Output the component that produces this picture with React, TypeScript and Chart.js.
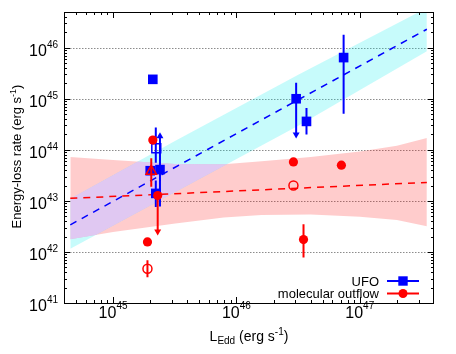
import React, { useEffect, useRef } from "react";
import { Chart, registerables } from "chart.js";
Chart.register(...registerables);

// ---- axis ranges & ticks ----
const xRange = [4e44, 4e47];
const yRange = [1e41, 5e46];
const xTickValues = [1e45, 1e46, 1e47];
const xTickExps = ["45", "46", "47"];
const yTickValues = [1e41, 1e42, 1e43, 1e44, 1e45, 1e46];
const yTickExps = ["41", "42", "43", "44", "45", "46"];
const legendLabels = ["UFO", "molecular outflow"];

// ---- UFO ----
const ufoX = [2.1e45, 3.05e46, 3.7e46, 7.4e46, 2.0e45, 2.4e45, 2.22e45];
const ufoY = [2.4e45, 1.0e45, 3.6e44, 6.4e45, 3.9e43, 4.1e43, 1.4e43];
const ufoOpenX = [2.24e45];
const ufoOpenY = [1.07e44];
const ufoErrX = [3.05e46, 3.7e46, 7.4e46, 2.22e45, 2.22e45, 2.4e45];
const ufoErrLo = [2.0e44, 2.0e44, 5.1e44, 5.6e43, 7.6e42, 7.8e42];
const ufoErrHi = [2.05e45, 6.6e44, 1.8e46, 2.75e44, 2.5e43, 1.85e44];
const ufoArrowX = [3.05e46, 2.4e45];
const ufoArrowY = [2.0e44, 1.85e44];
const ufoArrowDown = [true, false];

// ---- molecular outflow ----
const molX = [2.1e45, 2.3e45, 1.9e45, 2.9e46, 3.5e46, 7.1e46];
const molY = [1.55e44, 1.27e43, 1.57e42, 5.8e43, 1.75e42, 5.0e43];
const molOpenX = [1.9e45, 2.9e46];
const molOpenY = [4.7e41, 2.0e43];
const molTriX = [2.04e45];
const molTriY = [3.8e43];
const molErrX = [2.3e45, 1.9e45, 3.5e46, 2.04e45];
const molErrLo = [2.5e42, 3.2e41, 7.8e41, 1.9e43];
const molErrHi = [1.27e43, 6.9e41, 3.5e42, 6.8e43];
const molArrowX = [2.3e45];
const molArrowY = [2.5e42];
const molArrowDown = [true];

// ---- fits ----
const ufoFitX = [4.5e44, 3.5e47];
const ufoFitY = [3.4e42, 2.3e46];
const molFitX = [4.5e44, 3.5e47];
const molFitY = [1.12e43, 2.3e43];

// ---- bands ----
const ufoBandX = [4.5e44, 3.2e45, 3.2e46, 3.5e47];
const ufoBandHi = [1.1e43, 1.5e44, 3.0e45, 6.0e46];
const ufoBandLo = [1.15e42, 1.5e43, 3.0e44, 8.5e45];
const molBandX = [4.5e44, 1e45, 3.2e45, 7.9e45, 1.6e46, 4e46, 1e47, 2e47, 3.5e47];
const molBandHi = [7.2e43, 6.3e43, 5.3e43, 5.2e43, 6.0e43, 7.2e43, 9.3e43, 1.2e44, 1.7e44];
const molBandLo = [1.78e42, 2.45e42, 3.6e42, 4.7e42, 5.3e42, 5.4e42, 4.9e42, 4.2e42, 3.2e42];

const FONT = '"Liberation Sans", Arial, sans-serif';
const BLUE = "#0000ff";
const RED = "#ff0000";
const CYAN_FILL = "rgba(0,235,235,0.22)";
const PINK_FILL = "rgba(255,0,0,0.2)";
const OVERLAP_FILL = "rgb(224,200,242)";

const pts = (xs: number[], ys: number[]) => xs.map((x, i) => ({ x, y: ys[i] }));
const bars = (xs: number[], lo: number[], hi: number[]) => {
  const d: any[] = [];
  xs.forEach((x, i) => {
    d.push({ x, y: lo[i] }, { x, y: hi[i] }, { x, y: null });
  });
  return d;
};
function minorTicks(min: number, max: number) {
  const out: number[] = [];
  for (let e = Math.floor(Math.log10(min)); e <= Math.ceil(Math.log10(max)); e++) {
    for (let m = 2; m <= 9; m++) {
      const v = m * Math.pow(10, e);
      if (v > min * 1.001 && v < max * 0.999) out.push(v);
    }
  }
  return out;
}
type Seg = { t: string; size: number; dy?: number };
function drawRich(ctx: CanvasRenderingContext2D, segs: Seg[], x: number, y: number, align: string) {
  let total = 0;
  const widths: number[] = [];
  for (const s of segs) {
    ctx.font = `${s.size}px ${FONT}`;
    const w = ctx.measureText(s.t).width;
    widths.push(w);
    total += w;
  }
  let cx = align === "center" ? x - total / 2 : align === "right" ? x - total : x;
  segs.forEach((s, i) => {
    ctx.font = `${s.size}px ${FONT}`;
    ctx.fillText(s.t, cx, y + (s.dy || 0));
    cx += widths[i];
  });
}

function bandPath(ctx: CanvasRenderingContext2D, hi: any[], lo: any[]) {
  ctx.beginPath();
  hi.forEach((p: any, i: number) => (i === 0 ? ctx.moveTo(p.x, p.y) : ctx.lineTo(p.x, p.y)));
  for (let i = lo.length - 1; i >= 0; i--) ctx.lineTo(lo[i].x, lo[i].y);
  ctx.closePath();
}

const gridPlugin = {
  id: "gridDeco",
  beforeDatasetsDraw(chart: any) {
    const { ctx, chartArea: a, scales } = chart;
    ctx.save();
    ctx.strokeStyle = "#8c8c8c";
    ctx.lineWidth = 1;
    ctx.setLineDash([1.5, 1.5]);
    yTickValues.forEach((v) => {
      const py = Math.round(scales.y.getPixelForValue(v)) + 0.5;
      if (py > a.top + 1 && py < a.bottom - 1) {
        ctx.beginPath();
        ctx.moveTo(a.left, py);
        ctx.lineTo(a.right, py);
        ctx.stroke();
      }
    });
    ctx.restore();
  },
  // paint the overlap of the two bands just before the fit lines are drawn
  beforeDatasetDraw(chart: any, args: any) {
    const ds = chart.data.datasets[args.index];
    if (!ds || ds.id !== "ufoFit") return;
    const find = (id: string) => chart.data.datasets.findIndex((d: any) => d.id === id);
    const cu = chart.getDatasetMeta(find("cyanHi")).data;
    const cl = chart.getDatasetMeta(find("cyanLo")).data;
    const pu = chart.getDatasetMeta(find("pinkHi")).data;
    const pl = chart.getDatasetMeta(find("pinkLo")).data;
    const { ctx, chartArea: a } = chart;
    ctx.save();
    ctx.beginPath();
    ctx.rect(a.left, a.top, a.right - a.left, a.bottom - a.top);
    ctx.clip();
    bandPath(ctx, cu, cl);
    ctx.clip();
    bandPath(ctx, pu, pl);
    ctx.fillStyle = OVERLAP_FILL;
    ctx.fill();
    ctx.restore();
  },
};

const decoPlugin = {
  id: "axisDeco",
  afterDraw(chart: any) {
    const { ctx, chartArea: a, scales } = chart;
    const xs = scales.x, ys = scales.y;
    ctx.save();
    ctx.setLineDash([]);
    ctx.strokeStyle = "#000";
    ctx.lineWidth = 1;
    const tick = (v: number, len: number, isX: boolean) => {
      ctx.beginPath();
      if (isX) {
        const px = Math.round(xs.getPixelForValue(v)) + 0.5;
        ctx.moveTo(px, a.bottom);
        ctx.lineTo(px, a.bottom - len);
        ctx.moveTo(px, a.top);
        ctx.lineTo(px, a.top + len);
      } else {
        const py = Math.round(ys.getPixelForValue(v)) + 0.5;
        ctx.moveTo(a.left, py);
        ctx.lineTo(a.left + len, py);
        ctx.moveTo(a.right, py);
        ctx.lineTo(a.right - len, py);
      }
      ctx.stroke();
    };
    xTickValues.forEach((v) => tick(v, 6, true));
    minorTicks(xRange[0], xRange[1]).forEach((v) => tick(v, 3, true));
    yTickValues.forEach((v) => tick(v, 6, false));
    minorTicks(yRange[0], yRange[1]).forEach((v) => tick(v, 3, false));
    ctx.strokeRect(a.left + 0.5, a.top + 0.5, a.right - a.left - 1, a.bottom - a.top);

    ctx.fillStyle = "#000";
    ctx.textAlign = "left";
    ctx.textBaseline = "alphabetic";
    xTickValues.forEach((v, i) => {
      const px = xs.getPixelForValue(v);
      drawRich(ctx, [{ t: "10", size: 16 }, { t: xTickExps[i], size: 10, dy: -9 }], px, a.bottom + 14.5, "center");
    });
    yTickValues.forEach((v, i) => {
      const py = ys.getPixelForValue(v);
      drawRich(ctx, [{ t: "10", size: 16 }, { t: yTickExps[i], size: 10, dy: -8 }], a.left - 6, py + 8, "right");
    });
    drawRich(
      ctx,
      [
        { t: "L", size: 14 },
        { t: "Edd", size: 10, dy: 3 },
        { t: " (erg s", size: 14 },
        { t: "-1", size: 10, dy: -6 },
        { t: ")", size: 14 },
      ],
      (a.left + a.right) / 2,
      340.5,
      "center"
    );
    ctx.save();
    ctx.translate(21, (a.top + a.bottom) / 2 - 1);
    ctx.rotate(-Math.PI / 2);
    drawRich(
      ctx,
      [
        { t: "Energy-loss rate (erg s", size: 13 },
        { t: "-1", size: 9, dy: -5 },
        { t: ")", size: 13 },
      ],
      0,
      0,
      "center"
    );
    ctx.restore();

    const rows = [
      { label: legendLabels[0], color: BLUE, marker: "rect", y: a.bottom - 22 },
      { label: legendLabels[1], color: RED, marker: "circle", y: a.bottom - 9.5 },
    ];
    rows.forEach((r) => {
      ctx.fillStyle = "#000";
      ctx.font = `13px ${FONT}`;
      ctx.textAlign = "right";
      ctx.fillText(r.label, a.right - 55, r.y + 4.5);
      ctx.strokeStyle = r.color;
      ctx.lineWidth = 2;
      ctx.beginPath();
      ctx.moveTo(a.right - 47, r.y);
      ctx.lineTo(a.right - 15, r.y);
      ctx.stroke();
      ctx.fillStyle = r.color;
      const mx = a.right - 31;
      if (r.marker === "rect") {
        ctx.fillRect(mx - 4.7, r.y - 4.7, 9.4, 9.4);
      } else {
        ctx.beginPath();
        ctx.arc(mx, r.y, 4.5, 0, Math.PI * 2);
        ctx.fill();
      }
    });
    ctx.restore();
  },
};

export default function App() {
  const ref = useRef<HTMLCanvasElement>(null);
  useEffect(() => {
    if (!ref.current) return;
    const lineDs = (data: any[], color: string, extra: any = {}) => ({
      data,
      showLine: true,
      borderColor: color,
      backgroundColor: color,
      borderWidth: 2,
      pointRadius: 0,
      fill: false,
      ...extra,
    });
    const chart = new Chart(ref.current, {
      type: "line",
      data: {
        datasets: [
          {
            label: "mol tri",
            data: pts(molTriX, molTriY),
            showLine: false,
            pointStyle: "triangle",
            pointRadius: 6,
            backgroundColor: "rgba(0,0,0,0)",
            borderColor: RED,
            borderWidth: 1.5,
            order: 1,
          },
          {
            label: "mol open",
            data: pts(molOpenX, molOpenY),
            showLine: false,
            pointStyle: "circle",
            pointRadius: 4.5,
            backgroundColor: "rgba(0,0,0,0)",
            borderColor: RED,
            borderWidth: 1.5,
            order: 1,
          },
          {
            label: legendLabels[1],
            data: pts(molX, molY),
            showLine: false,
            pointStyle: "circle",
            pointRadius: 4.6,
            backgroundColor: RED,
            borderColor: RED,
            borderWidth: 0,
            order: 1,
          },
          {
            label: "mol arrows",
            data: pts(molArrowX, molArrowY),
            showLine: false,
            pointStyle: "triangle",
            pointRadius: 4,
            rotation: molArrowDown.map((d) => (d ? 180 : 0)),
            backgroundColor: RED,
            borderColor: RED,
            borderWidth: 0,
            order: 2,
          },
          lineDs(bars(molErrX, molErrLo, molErrHi), RED, { order: 2 }),
          {
            label: "ufo open",
            data: pts(ufoOpenX, ufoOpenY),
            showLine: false,
            pointStyle: "rect",
            pointRadius: 6.3,
            backgroundColor: "rgba(0,0,0,0)",
            borderColor: BLUE,
            borderWidth: 1.5,
            order: 3,
          },
          {
            label: legendLabels[0],
            data: pts(ufoX, ufoY),
            showLine: false,
            pointStyle: "rect",
            pointRadius: 6.8,
            backgroundColor: BLUE,
            borderColor: BLUE,
            borderWidth: 0,
            order: 3,
          },
          {
            label: "ufo arrows",
            data: pts(ufoArrowX, ufoArrowY),
            showLine: false,
            pointStyle: "triangle",
            pointRadius: 4,
            rotation: ufoArrowDown.map((d) => (d ? 180 : 0)),
            backgroundColor: BLUE,
            borderColor: BLUE,
            borderWidth: 0,
            order: 4,
          },
          lineDs(bars(ufoErrX, ufoErrLo, ufoErrHi), BLUE, { order: 4 }),
          lineDs(pts(molFitX, molFitY), RED, { borderWidth: 1.5, borderDash: [7, 6], order: 5 }),
          lineDs(pts(ufoFitX, ufoFitY), BLUE, { id: "ufoFit", borderWidth: 1.5, borderDash: [7, 6], order: 5.5 }),
          lineDs(pts(ufoBandX, ufoBandHi), "rgba(0,0,0,0)", {
            id: "cyanHi",
            borderWidth: 0,
            fill: "+1",
            backgroundColor: CYAN_FILL,
            order: 6,
          }),
          lineDs(pts(ufoBandX, ufoBandLo), "rgba(0,0,0,0)", { id: "cyanLo", borderWidth: 0, order: 6 }),
          lineDs(pts(molBandX, molBandHi), "rgba(0,0,0,0)", {
            id: "pinkHi",
            borderWidth: 0,
            fill: "+1",
            backgroundColor: PINK_FILL,
            order: 7,
          }),
          lineDs(pts(molBandX, molBandLo), "rgba(0,0,0,0)", { id: "pinkLo", borderWidth: 0, order: 7 }),
        ],
      },
      options: {
        animation: false,
        responsive: false,
        devicePixelRatio: 1,
        events: [],
        layout: { padding: { left: 0, top: 12, right: 22, bottom: 0 } },
        plugins: { legend: { display: false }, tooltip: { enabled: false } },
        scales: {
          x: {
            type: "logarithmic",
            min: xRange[0],
            max: xRange[1],
            grid: { display: false },
            border: { display: false },
            ticks: { display: false },
            afterFit: (s: any) => {
              s.height = 51;
            },
          },
          y: {
            type: "logarithmic",
            min: yRange[0],
            max: yRange[1],
            grid: { display: false },
            border: { display: false },
            ticks: { display: false },
            afterFit: (s: any) => {
              s.width = 64;
            },
          },
        },
      } as any,
      plugins: [gridPlugin, decoPlugin],
    } as any);
    return () => chart.destroy();
  }, []);
  return (
    <div style={{ position: "absolute", left: 0, top: 0, width: 456, height: 354, background: "#fff" }}>
      <canvas ref={ref} width={456} height={354} style={{ display: "block" }} />
    </div>
  );
}
